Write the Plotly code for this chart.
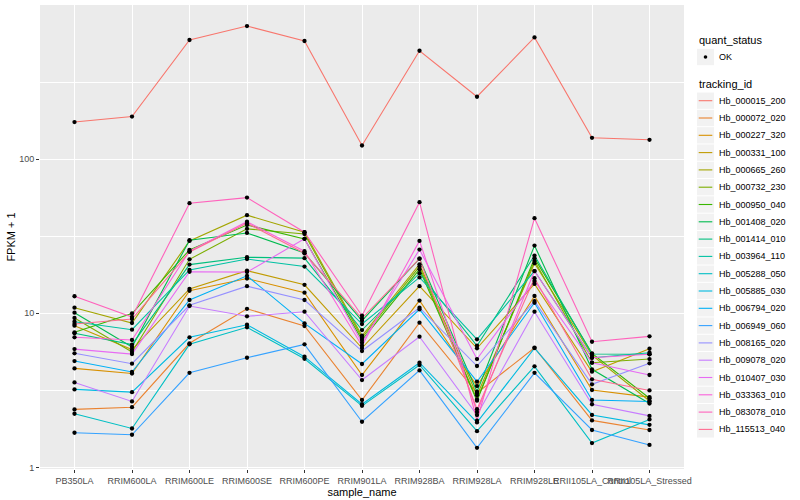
import plotly.graph_objects as go

samples = ["PB350LA", "RRIM600LA", "RRIM600LE", "RRIM600SE", "RRIM600PE", "RRIM901LA",
           "RRIM928BA", "RRIM928LA", "RRIM928LE", "RRII105LA_Control", "RRII105LA_Stressed"]

tracking_ids = ["Hb_000015_200", "Hb_000072_020", "Hb_000227_320", "Hb_000331_100", "Hb_000665_260",
                "Hb_000732_230", "Hb_000950_040", "Hb_001408_020", "Hb_001414_010", "Hb_003964_110",
                "Hb_005288_050", "Hb_005885_030", "Hb_006794_020", "Hb_006949_060", "Hb_008165_020",
                "Hb_009078_020", "Hb_010407_030", "Hb_033363_010", "Hb_083078_010", "Hb_115513_040"]

quant_status = ["OK"]

# FPKM + 1 per sample (same order as samples)
Hb_000015_200 = [174, 189, 593, 730, 584, 122.6, 505, 254, 616, 137.5, 133.5]
Hb_000072_020 = [2.38, 2.46, 6.39, 10.7, 8.27, 2.74, 8.69, 3.04, 5.98, 2.02, 1.75]
Hb_000227_320 = [4.39, 4.07, 14.0, 16.8, 13.6, 3.98, 12.1, 3.37, 12.95, 3.18, 2.86]
Hb_000331_100 = [8.31, 5.82, 14.4, 18.9, 15.3, 5.95, 15.0, 5.93, 15.5, 4.18, 5.89]
Hb_000665_260 = [10.87, 8.65, 29.5, 43.3, 33.6, 7.15, 20.8, 2.94, 21.1, 5.36, 2.70]
Hb_000732_230 = [9.32, 5.61, 22.4, 35.3, 32.7, 6.94, 20.1, 2.76, 21.9, 4.78, 5.05]
Hb_000950_040 = [7.53, 9.97, 25.8, 37.4, 30.4, 6.71, 19.3, 2.71, 22.8, 5.50, 2.81]
Hb_001408_020 = [10.09, 6.04, 29.8, 33.2, 24.6, 8.95, 22.6, 3.10, 27.5, 4.33, 2.60]
Hb_001414_010 = [7.42, 6.27, 20.7, 23.1, 22.8, 7.79, 18.2, 6.16, 23.7, 5.45, 5.42]
Hb_003964_110 = [8.82, 7.83, 19.1, 22.5, 20.1, 8.52, 17.1, 6.78, 18.8, 5.15, 5.55]
Hb_005288_050 = [2.23, 1.79, 6.29, 8.11, 5.07, 2.51, 4.62, 1.72, 4.53, 1.44, 2.05]
Hb_005885_030 = [3.21, 3.08, 6.99, 8.43, 5.23, 2.57, 4.78, 1.96, 5.95, 2.19, 1.89]
Hb_006794_020 = [4.90, 4.16, 12.2, 17.5, 8.61, 4.69, 10.6, 3.60, 11.7, 2.74, 2.68]
Hb_006949_060 = [1.68, 1.63, 4.11, 5.15, 6.29, 1.98, 4.26, 1.34, 4.11, 1.75, 1.40]
Hb_008165_020 = [5.50, 4.71, 11.27, 15.0, 12.2, 5.69, 10.87, 4.55, 12.0, 3.46, 4.74]
Hb_009078_020 = [3.56, 2.68, 11.15, 9.56, 10.24, 3.69, 7.05, 2.19, 10.24, 2.57, 2.16]
Hb_010407_030 = [5.86, 5.44, 18.6, 18.5, 30.4, 6.44, 25.9, 5.05, 16.2, 4.78, 3.98]
Hb_033363_010 = [6.99, 6.71, 25.3, 39.3, 25.3, 6.16, 29.5, 2.29, 18.8, 5.15, 5.42]
Hb_083078_010 = [12.9, 9.46, 51.8, 56.3, 33.6, 9.65, 52.6, 2.01, 41.4, 6.54, 7.09]
Hb_115513_040 = [8.52, 9.18, 25.0, 38.4, 24.5, 9.28, 22.6, 2.39, 16.9, 3.73, 3.16]

series = [Hb_000015_200, Hb_000072_020, Hb_000227_320, Hb_000331_100, Hb_000665_260,
          Hb_000732_230, Hb_000950_040, Hb_001408_020, Hb_001414_010, Hb_003964_110,
          Hb_005288_050, Hb_005885_030, Hb_006794_020, Hb_006949_060, Hb_008165_020,
          Hb_009078_020, Hb_010407_030, Hb_033363_010, Hb_083078_010, Hb_115513_040]

colors = ["#F8766D", "#EA8331", "#D89000", "#C09B00", "#A3A500", "#7CAE00", "#39B600",
          "#00BB4E", "#00BF7D", "#00C1A3", "#00BFC4", "#00BAE0", "#00B0F6", "#35A2FF",
          "#9590FF", "#C77CFF", "#E76BF3", "#FA62DB", "#FF62BC", "#FF6C91"]

FONT = "Liberation Sans, Arial, Helvetica, sans-serif"
W, H = 800, 500
ML, MR, MT, MB = 40, 116, 5, 31
PW, PH = W - ML - MR, H - MT - MB


def px(x):
    return (x - ML) / PW


def py(y):
    return 1 - (y - MT) / PH


fig = go.Figure()
for name, vals, col in zip(tracking_ids, series, colors):
    fig.add_trace(go.Scatter(x=samples, y=vals, mode="lines", name=name,
                             line=dict(color=col, width=1.1), showlegend=False,
                             hoverinfo="skip"))

all_x = [s for vals in series for s in samples]
all_y = [v for vals in series for v in vals]
fig.add_trace(go.Scatter(x=all_x, y=all_y, mode="markers", name=quant_status[0],
                         marker=dict(color="black", size=4.3, symbol="circle"),
                         showlegend=False))

# ---- legend (ggplot style) ----
shapes, annos = [], []
KX0, KX1 = 697, 714
TX = 717
KEY = 17.3


def key_box(cy):
    shapes.append(dict(type="rect", xref="paper", yref="paper",
                       x0=px(KX0), x1=px(KX1), y0=py(cy - KEY / 2 + 0.5), y1=py(cy + KEY / 2 - 0.5),
                       fillcolor="#F2F2F2", line=dict(width=0), layer="above"))


annos.append(dict(text="quant_status", x=px(697), y=py(40.5), xref="paper", yref="paper",
                  xanchor="left", yanchor="middle", showarrow=False,
                  font=dict(size=11, color="black")))
key_box(57)
shapes.append(dict(type="circle", xref="paper", yref="paper",
                   x0=px(703.7), x1=px(707.3), y0=py(55.2), y1=py(58.8),
                   fillcolor="black", line=dict(width=0), layer="above"))
annos.append(dict(text=quant_status[0], x=px(TX), y=py(57), xref="paper", yref="paper",
                  xanchor="left", yanchor="middle", showarrow=False,
                  font=dict(size=9, color="black")))

annos.append(dict(text="tracking_id", x=px(697), y=py(84), xref="paper", yref="paper",
                  xanchor="left", yanchor="middle", showarrow=False,
                  font=dict(size=11, color="black")))
for i, (name, col) in enumerate(zip(tracking_ids, colors)):
    cy = 100.7 + KEY * i
    key_box(cy)
    shapes.append(dict(type="line", xref="paper", yref="paper",
                       x0=px(698.7), x1=px(712.3), y0=py(cy), y1=py(cy),
                       line=dict(color=col, width=1.1), layer="above"))
    annos.append(dict(text=name, x=px(TX), y=py(cy), xref="paper", yref="paper",
                      xanchor="left", yanchor="middle", showarrow=False,
                      font=dict(size=9, color="black")))

fig.update_layout(
    width=W, height=H,
    margin=dict(l=ML, r=MR, t=MT, b=MB),
    paper_bgcolor="white", plot_bgcolor="#EBEBEB",
    font=dict(family=FONT, size=9, color="black"),
    showlegend=False,
    shapes=shapes, annotations=annos,
    xaxis=dict(type="category", categoryorder="array", categoryarray=samples,
               range=[-0.6, 10.6], showgrid=True, gridcolor="white", gridwidth=1.1,
               zeroline=False, ticks="outside", ticklen=3, tickcolor="#333333",
               tickangle=0, tickfont=dict(size=9, color="#4D4D4D"),
               title=dict(text="sample_name", font=dict(size=11), standoff=2),
               automargin=False, showline=False),
    yaxis=dict(type="log", range=[-0.01, 3.0], tickvals=[1, 10, 100], ticktext=["1", "10", "100"],
               showgrid=True, gridcolor="white", gridwidth=1.1, zeroline=False,
               ticks="outside", ticklen=3, tickcolor="#333333",
               tickfont=dict(size=9, color="#4D4D4D"),
               minor=dict(tickvals=[3.1623, 31.623, 316.23], showgrid=True,
                          gridcolor="white", gridwidth=0.55, ticks=""),
               title=dict(text="FPKM + 1", font=dict(size=11), standoff=1),
               automargin=False, showline=False),
)

fig.write_html("out.html", config={"displayModeBar": False},
               post_script="document.body.style.margin='0';document.body.style.overflow='hidden';")
